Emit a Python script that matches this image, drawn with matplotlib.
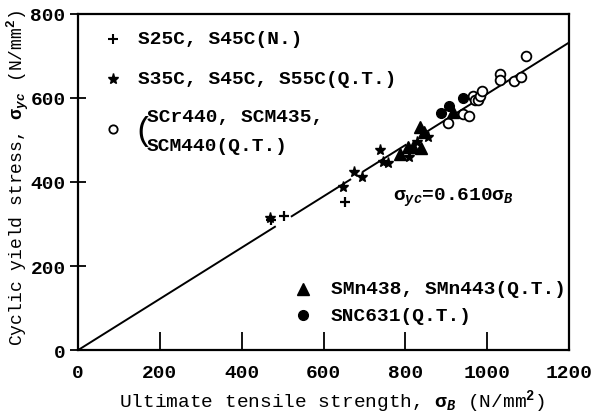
import numpy as np
import matplotlib.pyplot as plt

plt.rcParams['font.family'] = ['Liberation Mono', 'DejaVu Sans Mono']
plt.rcParams['font.weight'] = 'bold'
plt.rcParams['mathtext.fontset'] = 'custom'
plt.rcParams['mathtext.rm'] = 'Liberation Mono:bold'
plt.rcParams['mathtext.it'] = 'Liberation Mono:italic:bold'

# S25C, S45C (N.)
plus_x = [472, 503, 652]
plus_y = [310, 318, 353]
# S35C, S45C, S55C (Q.T.)
star_x = [468, 648, 673, 694, 738, 746, 758, 808, 827, 856]
star_y = [315, 387, 423, 413, 477, 447, 445, 459, 496, 506]
# SCr440, SCM435, SCM440 (Q.T.)
ocirc_x = [903, 940, 956, 966, 970, 978, 982, 986, 1030, 1031, 1066, 1082, 1095]
ocirc_y = [541, 562, 556, 604, 594, 594, 605, 617, 658, 642, 641, 651, 699]
# SMn438, SMn443 (Q.T.)
tri_x = [786, 807, 819, 839, 836, 845, 916]
tri_y = [466, 483, 484, 480, 530, 518, 567]
# SNC631 (Q.T.)
fcirc_x = [886, 907, 941]
fcirc_y = [565, 580, 601]

slope = 0.610
# the printed fit line is broken where the marks sit on it
fit_segments = [(0, 481), (522, 665), (697, 800), (855, 1200)]

fig = plt.figure(figsize=(6.01, 4.14), dpi=100)
ax = fig.add_axes([0.130, 0.152, 0.817, 0.812])

for x0, x1 in fit_segments:
    xs = np.array([x0, x1])
    ax.plot(xs, slope * xs, color='black', lw=1.4, zorder=1)

ax.plot(plus_x, plus_y, ls='none', marker='+', ms=7, mew=1.6, color='black')
ax.plot(star_x, star_y, ls='none', marker='*', ms=8, color='black')
ax.plot(ocirc_x, ocirc_y, ls='none', marker='o', ms=7, mew=1.3,
        mfc='white', mec='black')
ax.plot(tri_x, tri_y, ls='none', marker='^', ms=8, color='black')
ax.plot(fcirc_x, fcirc_y, ls='none', marker='o', ms=7, color='black')

ax.text(770, 358, r'$\mathrm{\sigma}_{yc}$=0.610$\mathrm{\sigma}_B$', fontsize=14)

# legend, drawn by hand like the original
fs = 14
tr = ax.transAxes
ax.plot(0.071, 0.926, marker='+', ms=7, mew=1.5, color='black', transform=tr)
ax.text(0.122, 0.926, 'S25C, S45C(N.)', fontsize=fs, va='center', transform=tr)
ax.plot(0.071, 0.807, marker='*', ms=8, color='black', transform=tr)
ax.text(0.122, 0.807, 'S35C, S45C, S55C(Q.T.)', fontsize=fs, va='center', transform=tr)
ax.plot(0.071, 0.658, marker='o', ms=6, mew=1.3, mfc='white', mec='black', transform=tr)
ax.text(0.112, 0.652, '(', fontsize=24, fontweight='normal', va='center', transform=tr)
ax.text(0.140, 0.696, 'SCr440, SCM435,', fontsize=fs, va='center', transform=tr)
ax.text(0.140, 0.610, 'SCM440(Q.T.)', fontsize=fs, va='center', transform=tr)

ax.plot(0.458, 0.183, marker='^', ms=8, color='black', transform=tr)
ax.text(0.515, 0.183, 'SMn438, SMn443(Q.T.)', fontsize=fs, va='center', transform=tr)
ax.plot(0.458, 0.103, marker='o', ms=7, color='black', transform=tr)
ax.text(0.515, 0.103, 'SNC631(Q.T.)', fontsize=fs, va='center', transform=tr)

ax.set_xlim(0, 1200)
ax.set_ylim(0, 800)
ax.set_xticks([0, 200, 400, 600, 800, 1000, 1200])
ax.set_yticks([0, 200, 400, 600, 800])
ax.tick_params(axis='x', direction='in', length=13, width=1.3, pad=10, labelsize=14)
ax.tick_params(axis='y', direction='inout', length=12, width=1.3, pad=3, labelsize=14)
for s in ax.spines.values():
    s.set_linewidth(1.6)

ax.set_xlabel(r'Ultimate tensile strength, $\mathrm{\sigma}_B$ (N/mm$^2$)', fontsize=14)
ax.set_ylabel(r'Cyclic yield stress, $\mathrm{\sigma}_{yc}$ (N/mm$^2$)', fontsize=13)
ax.xaxis.set_label_coords(0.518, -0.11)
ax.yaxis.set_label_coords(-0.097, 0.515)

fig.savefig('out.png', dpi=100)
